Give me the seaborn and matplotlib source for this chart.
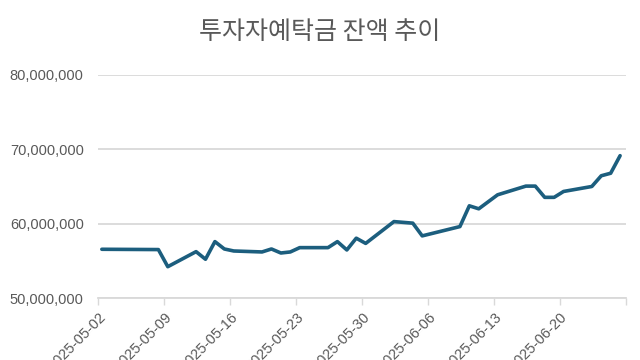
import matplotlib
matplotlib.use("Agg")
import matplotlib.pyplot as plt
import matplotlib.ticker as mticker
import seaborn as sns
import pandas as pd

dates = ["2025-05-02", "2025-05-08", "2025-05-09", "2025-05-12", "2025-05-13",
         "2025-05-14", "2025-05-15", "2025-05-16", "2025-05-19", "2025-05-20",
         "2025-05-21", "2025-05-22", "2025-05-23", "2025-05-26", "2025-05-27",
         "2025-05-28", "2025-05-29", "2025-05-30", "2025-06-02", "2025-06-04",
         "2025-06-05", "2025-06-09", "2025-06-10", "2025-06-11", "2025-06-12",
         "2025-06-13", "2025-06-16", "2025-06-17", "2025-06-18", "2025-06-19",
         "2025-06-20", "2025-06-23", "2025-06-24", "2025-06-25", "2025-06-26"]
balance = [56560000, 56520000, 54220000, 56240000, 55220000,
           57590000, 56600000, 56330000, 56200000, 56600000,
           56060000, 56200000, 56780000, 56780000, 57590000,
           56470000, 58050000, 57350000, 60280000, 60070000,
           58360000, 59610000, 62400000, 62000000, 62940000,
           63880000, 65050000, 65050000, 63540000, 63540000,
           64330000, 65000000, 66440000, 66780000, 69140000]
tick_dates = ["2025-05-02", "2025-05-09", "2025-05-16", "2025-05-23", "2025-05-30",
              "2025-06-06", "2025-06-13", "2025-06-20", "2025-06-27"]
tick_labels = ["2025-05-02", "2025-05-09", "2025-05-16", "2025-05-23", "2025-05-30",
               "2025-06-06", "2025-06-13", "2025-06-20", ""]
y_ticks = [50000000, 60000000, 70000000, 80000000]
title = "투자자예탁금 잔액 추이"

sns.set_theme(style="white")
plt.rcParams["font.family"] = ["Liberation Sans", "Noto Sans CJK KR", "DejaVu Sans"]

df = pd.DataFrame({
    # source dates are UTC midnights shown in KST (+9h)
    "date": pd.to_datetime(dates) + pd.Timedelta(hours=9),
    "balance": balance,
})

fig = plt.figure(figsize=(6.4, 3.6), dpi=100)
ax = fig.add_axes([0.1536, 0.172, 0.8245, 0.62])

grid_c = "#d9d9d9"
text_c = "#595959"

for v in y_ticks:
    ax.axhline(v, color=grid_c, lw=1.3, zorder=0)

sns.lineplot(data=df, x="date", y="balance", ax=ax, color="#1c5e7e",
             linewidth=2.6, solid_capstyle="round", solid_joinstyle="round")

ax.set_ylim(50000000, 80000000)
ax.set_xlim(pd.Timestamp("2025-05-02"), pd.Timestamp("2025-06-27"))
ax.set_yticks(y_ticks)
ax.yaxis.set_major_formatter(mticker.FuncFormatter(lambda v, p: f"{int(v):,}"))
ax.set_xticks(pd.to_datetime(tick_dates))
ax.set_xticklabels(tick_labels, rotation=45, ha="right", rotation_mode="anchor")

ax.set_xlabel("")
ax.set_ylabel("")
for s in ["top", "right", "left"]:
    ax.spines[s].set_visible(False)
ax.spines["bottom"].set_color(grid_c)
ax.spines["bottom"].set_linewidth(1.3)
ax.tick_params(axis="x", colors=text_c, labelsize=10.5, length=5, width=1.0,
               color=grid_c, direction="out", pad=4, bottom=True)
ax.tick_params(axis="y", colors=text_c, labelsize=10.5, length=0, pad=10.5)

fig.text(0.5, 0.912, title, ha="center", va="center", fontsize=18,
         color=text_c, family=["Noto Sans CJK KR", "DejaVu Sans"])

fig.savefig("out.png", dpi=100)
